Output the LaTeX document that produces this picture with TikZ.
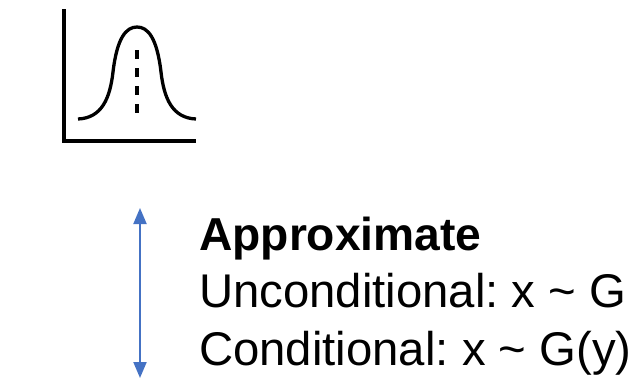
\documentclass[tikz,border=0pt]{standalone}
\usepackage{fontspec}
\setmainfont{Liberation Sans}
\usetikzlibrary{arrows.meta, positioning}
\definecolor{arrblue}{RGB}{68,114,196}

\begin{document}
\frenchspacing
\begin{tikzpicture}[
    x=1pt, y=-1pt,
    axisst/.style={line width=3.8pt},
    curvest/.style={line width=3.3pt},
    meanst/.style={line width=3.8pt, dash pattern=on 9pt off 9pt},
    arr/.style={{Triangle[length=16pt, width=13pt]}-{Triangle[length=16pt, width=13pt]},
                draw=arrblue, fill=arrblue, line width=2pt},
    textst/.style={anchor=base west, align=left, inner sep=0pt,
                   font=\fontsize{47.3}{57.5}\selectfont},
  ]
  \useasboundingbox (0,0) rectangle (641,383);
  %% Gaussian icon
  \coordinate (ytop) at (64,9);
  \coordinate (orig) at (64,141);
  \coordinate (xend) at (196,141);
  \draw[axisst] (ytop) -- (orig) -- (xend);
  \draw[curvest] (78,119) .. controls (102,118) and (110,98) .. (113,72)
    .. controls (117,38) and (126,27) .. (137,27)
    .. controls (148,27) and (157,38) .. (161,72)
    .. controls (164,98) and (172,118) .. (196,119);
  \coordinate (mtop) at (137,50);
  \coordinate (mbot) at (137,113.3);
  \draw[meanst] (mtop) -- (mbot);
  %% Label (base = last line)
  \node[textst] (lbl) at (199,365) {{\fontsize{46.2}{57.5}\selectfont\bfseries Approximate}\\
    Unconditional: x \textasciitilde{} G\\
    Conditional: x \textasciitilde{} G(y)};
  %% Arrow
  \coordinate (atop) at (140,208);
  \coordinate (abot) at (140,378);
  \draw[arr] (atop) -- (abot);
\end{tikzpicture}
\end{document}
